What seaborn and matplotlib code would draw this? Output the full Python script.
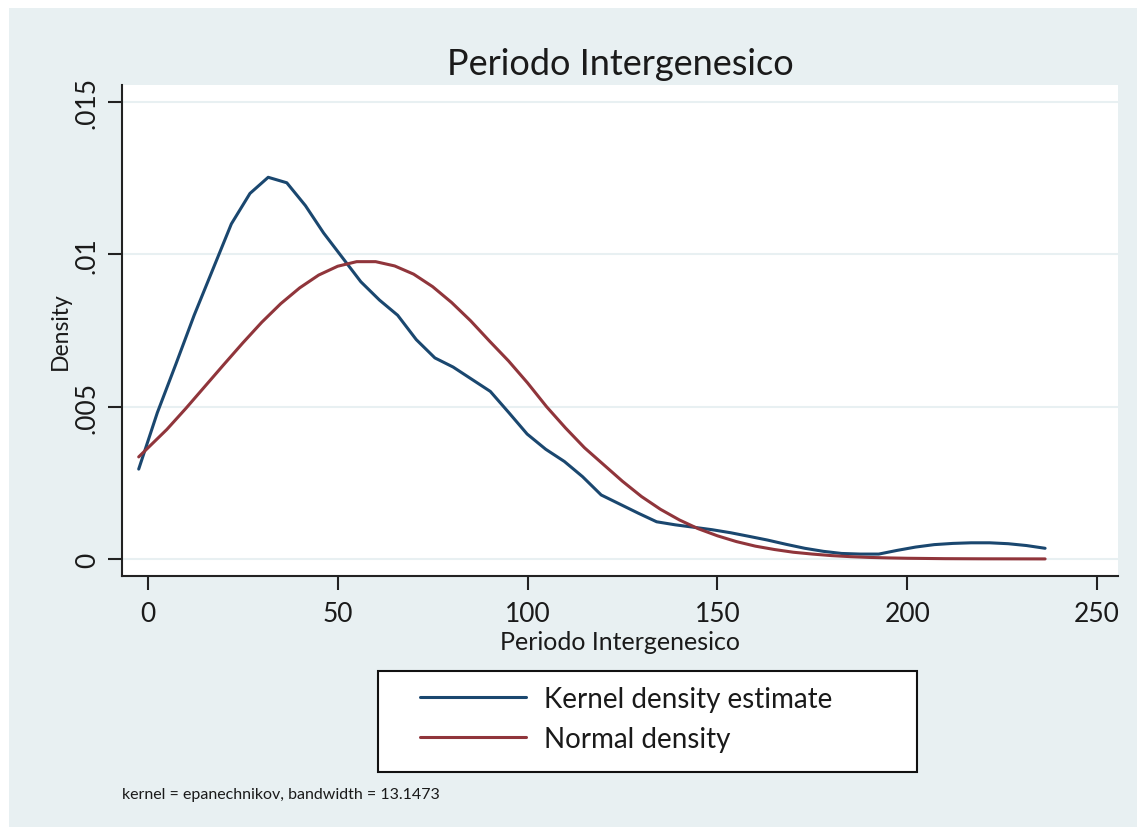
import numpy as np
import pandas as pd
import seaborn as sns
import matplotlib.pyplot as plt
from matplotlib.patches import Rectangle

# Valores
x_kernel = [-2.4, 2.5, 7.4, 12.2, 17.1, 22.0, 26.9, 31.7, 36.6, 41.5, 46.3, 51.2,
            56.1, 61.0, 65.8, 70.7, 75.6, 80.4, 85.3, 90.2, 95.1, 99.9, 104.8,
            109.7, 114.5, 119.4, 124.3, 129.2, 134.0, 138.9, 143.8, 148.6, 153.5,
            158.4, 163.2, 168.1, 173.0, 177.9, 182.7, 187.6, 192.5, 197.3, 202.2,
            207.1, 212.0, 216.8, 221.7, 226.6, 231.4, 236.3]
y_kernel = [0.00295, 0.0048, 0.0064, 0.0080, 0.0095, 0.0110, 0.0120, 0.01253,
            0.01235, 0.0116, 0.0107, 0.0099, 0.0091, 0.0085, 0.0080, 0.0072,
            0.0066, 0.0063, 0.0059, 0.0055, 0.0048, 0.0041, 0.0036, 0.0032,
            0.0027, 0.0021, 0.0018, 0.0015, 0.00122, 0.00112, 0.00104, 0.00096,
            0.00086, 0.00074, 0.00062, 0.00048, 0.00035, 0.00025, 0.00018,
            0.00016, 0.00016, 0.00028, 0.00039, 0.00047, 0.00051, 0.00053,
            0.00053, 0.00050, 0.00044, 0.00035]

x_normal = [-2.4, 5, 10, 15, 20, 25, 30, 35, 40, 45, 50, 55, 60, 65, 70, 75, 80,
            85, 90, 95, 100, 105, 110, 115, 120, 125, 130, 135, 140, 145, 150,
            155, 160, 165, 170, 175, 180, 185, 190, 195, 200, 210, 220, 236.3]
y_normal = [0.00335, 0.00425, 0.00494, 0.00566, 0.00638, 0.00709, 0.00777,
            0.00838, 0.00890, 0.00932, 0.00961, 0.00976, 0.00976, 0.00962,
            0.00935, 0.00894, 0.00842, 0.00782, 0.00715, 0.00650, 0.00578,
            0.00500, 0.00430, 0.00365, 0.00310, 0.00255, 0.00205, 0.00163,
            0.00128, 0.00099, 0.00076, 0.00057, 0.00042, 0.00031, 0.00022,
            0.00016, 0.00011, 0.000075, 0.00005, 0.000034, 0.000022, 0.000009,
            0.000004, 0.000001]

series = ["Kernel density estimate", "Normal density"]
colores = ["#1A476F", "#90353B"]

df = pd.concat([
    pd.DataFrame({"x": x_kernel, "y": y_kernel, "serie": series[0]}),
    pd.DataFrame({"x": x_normal, "y": y_normal, "serie": series[1]}),
])

sns.set_style("white")
plt.rcParams["font.family"] = ["Lato", "DejaVu Sans"]
plt.rcParams["font.weight"] = "normal"
texto = "#1a1a1a"

W, H = 1137, 828
gris = "#E8F0F2"
fig = plt.figure(figsize=(W / 100, H / 100), dpi=100, facecolor="white")
fig.patches.append(Rectangle((9 / W, 0), 1 - 9 / W, 1 - 9 / H,
                             transform=fig.transFigure, facecolor=gris,
                             edgecolor="none", zorder=-10))
ax = fig.add_axes([122 / W, 1 - 577 / H, (1118 - 122) / W, (577 - 86) / H])
ax.set_facecolor("white")

sns.lineplot(data=df, x="x", y="y", hue="serie", palette=colores, sort=False,
             linewidth=2.2, ax=ax, legend=False)

ax.set_xlim(-6.8, 255.5)
ax.set_ylim(-0.00056, 0.01556)
ax.set_xticks([0, 50, 100, 150, 200, 250])
ax.set_yticks([0, 0.005, 0.01, 0.015])
ax.set_yticklabels(["0", ".005", ".01", ".015"], rotation=90, va="center")
ax.tick_params(axis="both", direction="out", length=10, width=1.5, color="#222222",
               labelsize=19, bottom=True, left=True, labelcolor=texto)
ax.tick_params(axis="x", pad=8)
ax.tick_params(axis="y", pad=6)
for y in [0, 0.005, 0.01, 0.015]:
    ax.axhline(y, color=gris, linewidth=1.5, zorder=0)
for s in ["top", "right"]:
    ax.spines[s].set_visible(False)
for s in ["left", "bottom"]:
    ax.spines[s].set_color("#222222")
    ax.spines[s].set_linewidth(1.5)

ax.set_xlabel("Periodo Intergenesico", fontsize=18, labelpad=3, color=texto)
ax.set_ylabel("Density", fontsize=16.5, labelpad=3, color=texto)
fig.text(620 / W, 1 - 75 / H, "Periodo Intergenesico", fontsize=26,
         ha="center", va="baseline", color=texto)

# Leyenda con marco propio
fig.patches.append(Rectangle((378 / W, 1 - 773 / H), (917 - 378) / W, (773 - 672) / H,
                             transform=fig.transFigure, facecolor="white",
                             edgecolor="#111111", linewidth=1.5, zorder=1))
handles = [plt.Line2D([], [], color=c, linewidth=2.2) for c in colores]
leg = fig.legend(handles, series, loc="center left",
                 bbox_to_anchor=(420 / W, 1 - 720 / H),
                 fontsize=20, frameon=False, handlelength=3.8,
                 handletextpad=0.65, borderpad=0, labelspacing=0.5,
                 borderaxespad=0)
for t in leg.get_texts():
    t.set_color(texto)

fig.text(122 / W, 1 - 795 / H, "kernel = epanechnikov, bandwidth = 13.1473",
         fontsize=11.5, ha="left", va="center", color=texto)

fig.savefig("out.png", dpi=100, facecolor="white")
